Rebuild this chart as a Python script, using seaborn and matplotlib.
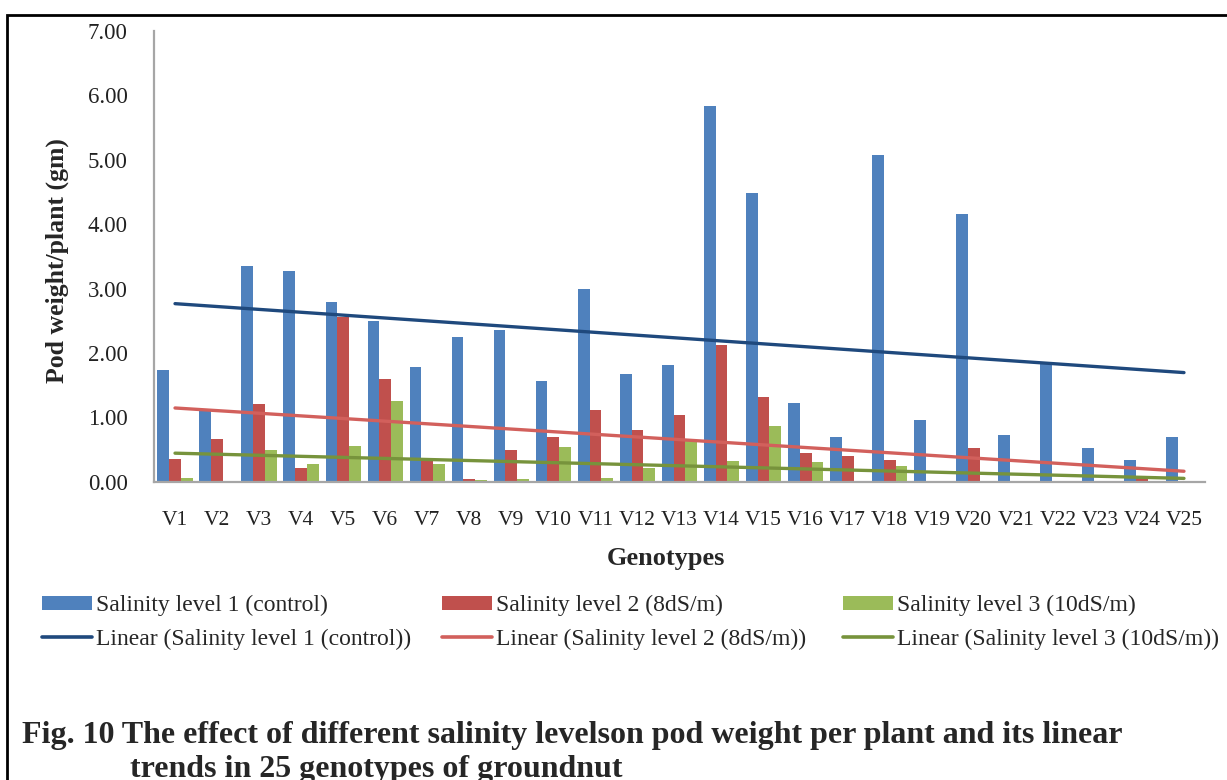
import numpy as np
import pandas as pd
import matplotlib
matplotlib.use("Agg")
import matplotlib.pyplot as plt
import seaborn as sns
from matplotlib.patches import Patch, Rectangle
from matplotlib.lines import Line2D

# Pod weight per plant (gm) for 25 groundnut genotypes at three salinity levels
genotypes = [f"V{i}" for i in range(1, 26)]
level1 = [1.73, 1.10, 3.35, 3.28, 2.79, 2.49, 1.78, 2.24, 2.36, 1.56,
          2.99, 1.68, 1.82, 5.84, 4.49, 1.22, 0.70, 5.08, 0.96, 4.16,
          0.73, 1.84, 0.52, 0.34, 0.70]
level2 = [0.36, 0.67, 1.20, 0.22, 2.56, 1.59, 0.36, 0.04, 0.50, 0.70,
          1.11, 0.80, 1.04, 2.13, 1.32, 0.44, 0.40, 0.33, 0.00, 0.52,
          0.00, 0.00, 0.00, 0.05, 0.00]
level3 = [0.06, 0.00, 0.50, 0.28, 0.56, 1.26, 0.28, 0.02, 0.04, 0.54,
          0.06, 0.21, 0.63, 0.32, 0.86, 0.31, 0.00, 0.25, 0.00, 0.00,
          0.00, 0.00, 0.00, 0.00, 0.00]

series_names = ["Salinity level 1 (control)",
                "Salinity level 2 (8dS/m)",
                "Salinity level 3 (10dS/m)"]
trend_names = [f"Linear ({name})" for name in series_names]
bar_colors = ["#4F81BD", "#C0504D", "#9BBB59"]
trend_colors = ["#1F497D", "#D2605C", "#77933C"]
y_ticks = [0, 1, 2, 3, 4, 5, 6, 7]
y_label = "Pod weight/plant (gm)"
x_label = "Genotypes"
caption_line1 = "Fig. 10 The effect of different salinity levelson pod weight per plant and its linear"
caption_line2 = "trends in 25 genotypes of groundnut"

sns.set_theme(style="white")
plt.rcParams["font.family"] = ["Liberation Serif", "DejaVu Serif"]

W, H = 1227, 780
fig = plt.figure(figsize=(W / 100, H / 100), dpi=100)
ax = fig.add_axes([154 / W, 1 - 481.7 / H, 1051 / W, 450.7 / H])

all_series = [level1, level2, level3]
df = pd.DataFrame({
    "Genotype": np.tile(genotypes, 3),
    "Weight": np.concatenate(all_series),
    "Level": np.repeat(series_names, len(genotypes)),
})

sns.barplot(data=df, x="Genotype", y="Weight", hue="Level",
            order=genotypes, hue_order=series_names,
            palette=bar_colors, saturation=1, width=0.84,
            errorbar=None, linewidth=0, legend=False, ax=ax)

# Least-squares linear trend for each salinity level
positions = np.arange(len(genotypes))
for vals, color in zip(all_series, trend_colors):
    sns.regplot(x=positions, y=np.array(vals), scatter=False, ci=None,
                truncate=True, color=color, line_kws=dict(lw=2.4), ax=ax)

ax.set_xlim(-0.5, len(genotypes) - 0.5)
ax.set_ylim(0, 7)
ax.set_yticks(y_ticks)
ax.set_yticklabels([f"{v:.2f}" for v in y_ticks], fontsize=16.5, color="#222222")
ax.set_xticks(positions)
ax.set_xticklabels(genotypes, fontsize=15.5, color="#222222")
ax.tick_params(axis="y", length=0, pad=19)
ax.tick_params(axis="x", length=0, pad=21)

for side in ["top", "right"]:
    ax.spines[side].set_visible(False)
for side in ["left", "bottom"]:
    ax.spines[side].set_color("#A6A6A6")
    ax.spines[side].set_linewidth(1.6)

ax.set_ylabel(y_label, fontsize=18.5, fontweight="bold")
ax.yaxis.set_label_coords(-0.081, 0.49)
ax.set_xlabel(x_label, fontsize=19, fontweight="bold", va="top")
ax.xaxis.set_label_coords(0.487, -0.144)

# Legend laid out as three columns, bar entry above its trend line entry
col_x = [42, 442, 843]
for i in range(3):
    handles = [Patch(facecolor=bar_colors[i], edgecolor="none"),
               Line2D([0], [0], color=trend_colors[i], lw=2.6)]
    fig.legend(handles=handles, labels=[series_names[i], trend_names[i]],
               loc="upper left", bbox_to_anchor=(col_x[i] / W, 1 - 595 / H),
               frameon=False, fontsize=17, borderpad=0, borderaxespad=0,
               handlelength=2.1, handleheight=0.55, handletextpad=0.2,
               labelspacing=0.52)

fig.text(22 / W, 1 - 743 / H, caption_line1, fontsize=23, fontweight="bold",
         va="baseline", ha="left")
fig.text(130 / W, 1 - 777 / H, caption_line2, fontsize=23, fontweight="bold",
         va="baseline", ha="left")

# Frame around the figure panel
fig.add_artist(Rectangle((7 / W, -0.2), 1.3, 1.2 - 15 / H,
                         transform=fig.transFigure, fill=False,
                         edgecolor="black", linewidth=2))

fig.savefig("out.png", dpi=100)
